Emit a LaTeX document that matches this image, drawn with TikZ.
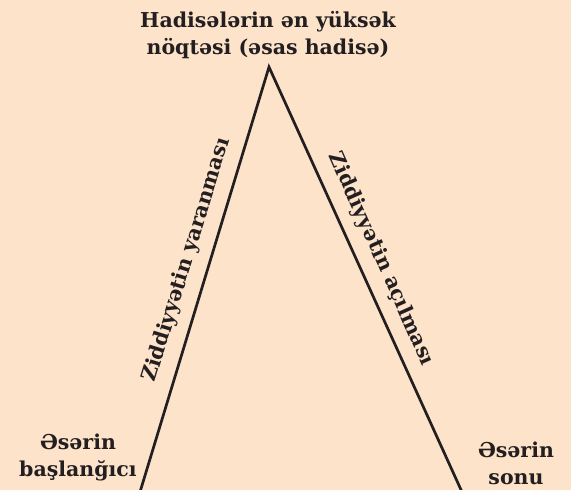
\documentclass[tikz,border=0pt]{standalone}
\usepackage{fontspec}
\setmainfont{DejaVu Serif}
\definecolor{bg}{HTML}{FDE3CA}
\definecolor{ink}{HTML}{231F20}
\begin{document}
\begin{tikzpicture}[x=1pt,y=-1pt,
  lbl/.style={text=ink,font=\fontsize{20.5}{27}\selectfont\bfseries,align=center,inner sep=0pt},
  edge/.style={draw=ink,line width=2.7pt}]
\fill[bg] (0,0) rectangle (571,490);
\useasboundingbox (0,0) rectangle (571,490);
\coordinate (apex) at (269,67);
\coordinate (lb) at (140,492);
\coordinate (rb) at (462,492);
\draw[edge,line join=miter] (lb) -- (apex) -- (rb);
\node[lbl] (top) at (268,35) {Hadisələrin ən yüksək\\nöqtəsi (əsas hadisə)};
\node[lbl] (start) at (78,457) {Əsərin\\başlanğıcı};
\node[lbl] (end) at (516,463) {Əsərin\\sonu};
\node[lbl,rotate=72.9] (rise) at (187,260) {Ziddiyyətin yaranması};
\node[lbl,rotate=-65.9] (fall) at (381,259) {Ziddiyyətin açılması};
\end{tikzpicture}
\end{document}
